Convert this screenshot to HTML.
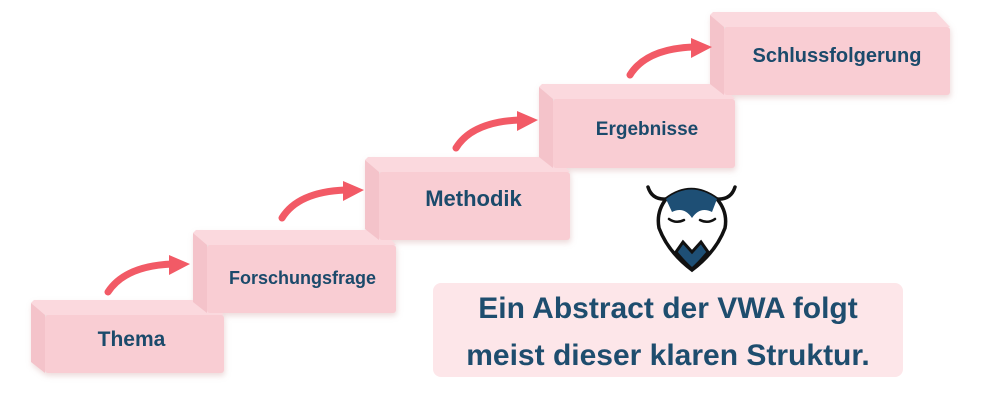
<!DOCTYPE html>
<html><head><style>
body{margin:0;width:984px;height:403px;background:#fff;position:relative;overflow:hidden;font-family:"Liberation Sans",sans-serif}
.b{position:absolute}
.lbl{position:absolute;color:#1b4a6b;font-weight:bold;text-align:center}
</style></head><body>
<svg width="984" height="403" style="position:absolute;left:0;top:0">
<defs>
<filter id="sh" x="-10%" y="-10%" width="130%" height="140%"><feDropShadow dx="1" dy="3" stdDeviation="3" flood-color="#c99" flood-opacity="0.35"/></filter>
</defs>
<g filter="url(#sh)">
<g>
<polygon points="31,303 34,300 210,300 224,315 45,315" fill="#fbd9de"/>
<polygon points="31,303 45,315 45,373 31,362" fill="#f4c3ca"/>
<rect x="45" y="315" width="179" height="58" rx="3" fill="#f9cdd3"/>
</g>
<g>
<polygon points="193,233 196,230 382,230 396,245 207,245" fill="#fbd9de"/>
<polygon points="193,233 207,245 207,313 193,302" fill="#f4c3ca"/>
<rect x="207" y="245" width="189" height="68" rx="3" fill="#f9cdd3"/>
</g>
<g>
<polygon points="365,160 368,157 556,157 570,172 379,172" fill="#fbd9de"/>
<polygon points="365,160 379,172 379,240 365,229" fill="#f4c3ca"/>
<rect x="379" y="172" width="191" height="68" rx="3" fill="#f9cdd3"/>
</g>
<g>
<polygon points="539,87 542,84 721,84 735,99 553,99" fill="#fbd9de"/>
<polygon points="539,87 553,99 553,168 539,157" fill="#f4c3ca"/>
<rect x="553" y="99" width="182" height="69" rx="3" fill="#f9cdd3"/>
</g>
<g>
<polygon points="710,15 713,12 936,12 950,27 724,27" fill="#fbd9de"/>
<polygon points="710,15 724,27 724,95 710,84" fill="#f4c3ca"/>
<rect x="724" y="27" width="226" height="68" rx="3" fill="#f9cdd3"/>
</g>
</g>
<g fill="none" stroke="#f25a66" stroke-width="7" stroke-linecap="round">
<path d="M108,292 Q125,266 172,264"/>
<path d="M282,218 Q298,192 345,190"/>
<path d="M456,148 Q472,122 519,120"/>
<path d="M630,75 Q646,49 693,47"/>
</g>
<g fill="#f25a66">
<polygon points="169,255 190,264 169,275"/>
<polygon points="343,181 364,190 343,201"/>
<polygon points="517,111 538,120 517,131"/>
<polygon points="691,38 712,47 691,58"/>
</g>
<g stroke="#111" stroke-width="3.5" fill="none" stroke-linecap="round">
<path d="M648,187 Q652,200 666,199"/>
<path d="M735,187 Q731,200 717,199"/>
</g>
<path d="M666,199 Q691,180 717,199 Q728,212 725,228 Q716,252 692,270 Q668,252 659,228 Q656,212 666,199Z" fill="#fff" stroke="#111" stroke-width="3.5"/>
<path d="M666,199 Q691,180 717,199 L712,212 Q700,206 692,218 Q684,206 672,212Z" fill="#1e4f75"/>
<path d="M676,252 L683,242 L692,252 L701,242 L708,252 Q700,262 692,269 Q684,262 676,252Z" fill="#1e4f75" stroke="#111" stroke-width="3"/>
<g stroke="#111" stroke-width="2.5" fill="none" stroke-linecap="round">
<path d="M669,219 Q676,224 684,220"/><path d="M700,220 Q708,224 715,219"/>
</g>
</svg>
<div class="lbl" style="left:42px;top:328px;width:179px;font-size:21px">Thema</div>
<div class="lbl" style="left:208px;top:268px;width:189px;font-size:18px">Forschungsfrage</div>
<div class="lbl" style="left:378px;top:186px;width:191px;font-size:22px">Methodik</div>
<div class="lbl" style="left:556px;top:119px;width:182px;font-size:19px">Ergebnisse</div>
<div class="lbl" style="left:724px;top:45px;width:226px;font-size:20px">Schlussfolgerung</div>
<div class="b" style="left:433px;top:283px;width:470px;height:94px;background:#fde6e9;border-radius:8px"></div>
<div class="lbl" style="left:433px;top:285px;width:470px;font-size:30px;line-height:47px;color:#1e4d6e">Ein Abstract der VWA folgt<br>meist dieser klaren Struktur.</div>
</body></html>
